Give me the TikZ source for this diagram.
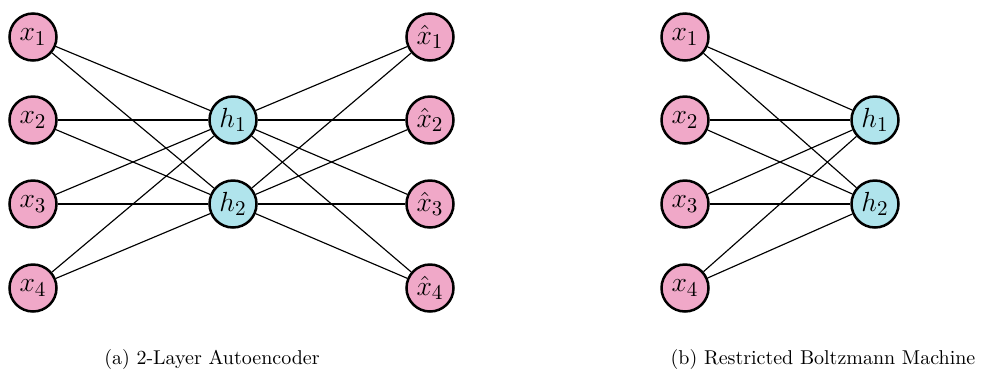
\documentclass[tikz,border=0pt]{standalone}
\begin{document}
\begin{tikzpicture}[x=0.52pt,y=-0.52pt,
  vis/.style={circle,draw=black,line width=1.3pt,fill=pinkc,minimum size=47*0.52pt,inner sep=0pt,font=\fontsize{15}{18}\selectfont},
  hid/.style={circle,draw=black,line width=1.3pt,fill=cyanc,minimum size=47*0.52pt,inner sep=0pt,font=\fontsize{15}{18}\selectfont},
  edge/.style={line width=0.6pt},
  captxt/.style={font=\fontsize{10.4}{12.5}\selectfont}]
\definecolor{pinkc}{RGB}{240,168,200}
\definecolor{cyanc}{RGB}{176,228,236}
\useasboundingbox (0,0) rectangle (986,378);
\foreach \i/\y in {1/37,2/120,3/204,4/288}{
  \node[vis] (a\i) at (33,\y) {$x_\i$};
  \node[vis] (o\i) at (430,\y) {$\hat{x}_\i$};
  \node[vis] (b\i) at (685,\y) {$x_\i$};
}
\node[hid] (ah1) at (233,120) {$h_1$};
\node[hid] (ah2) at (233,204) {$h_2$};
\node[hid] (bh1) at (875,120) {$h_1$};
\node[hid] (bh2) at (875,204) {$h_2$};
\foreach \i in {1,...,4}{
  \foreach \j in {1,2}{
    \draw[edge] (a\i) -- (ah\j);
    \draw[edge] (ah\j) -- (o\i);
    \draw[edge] (b\i) -- (bh\j);
  }
}
\node[captxt] (ca) at (212,359) {(a) 2-Layer Autoencoder};
\node[captxt] (cb) at (823,359) {(b) Restricted Boltzmann Machine};
\end{tikzpicture}
\end{document}
